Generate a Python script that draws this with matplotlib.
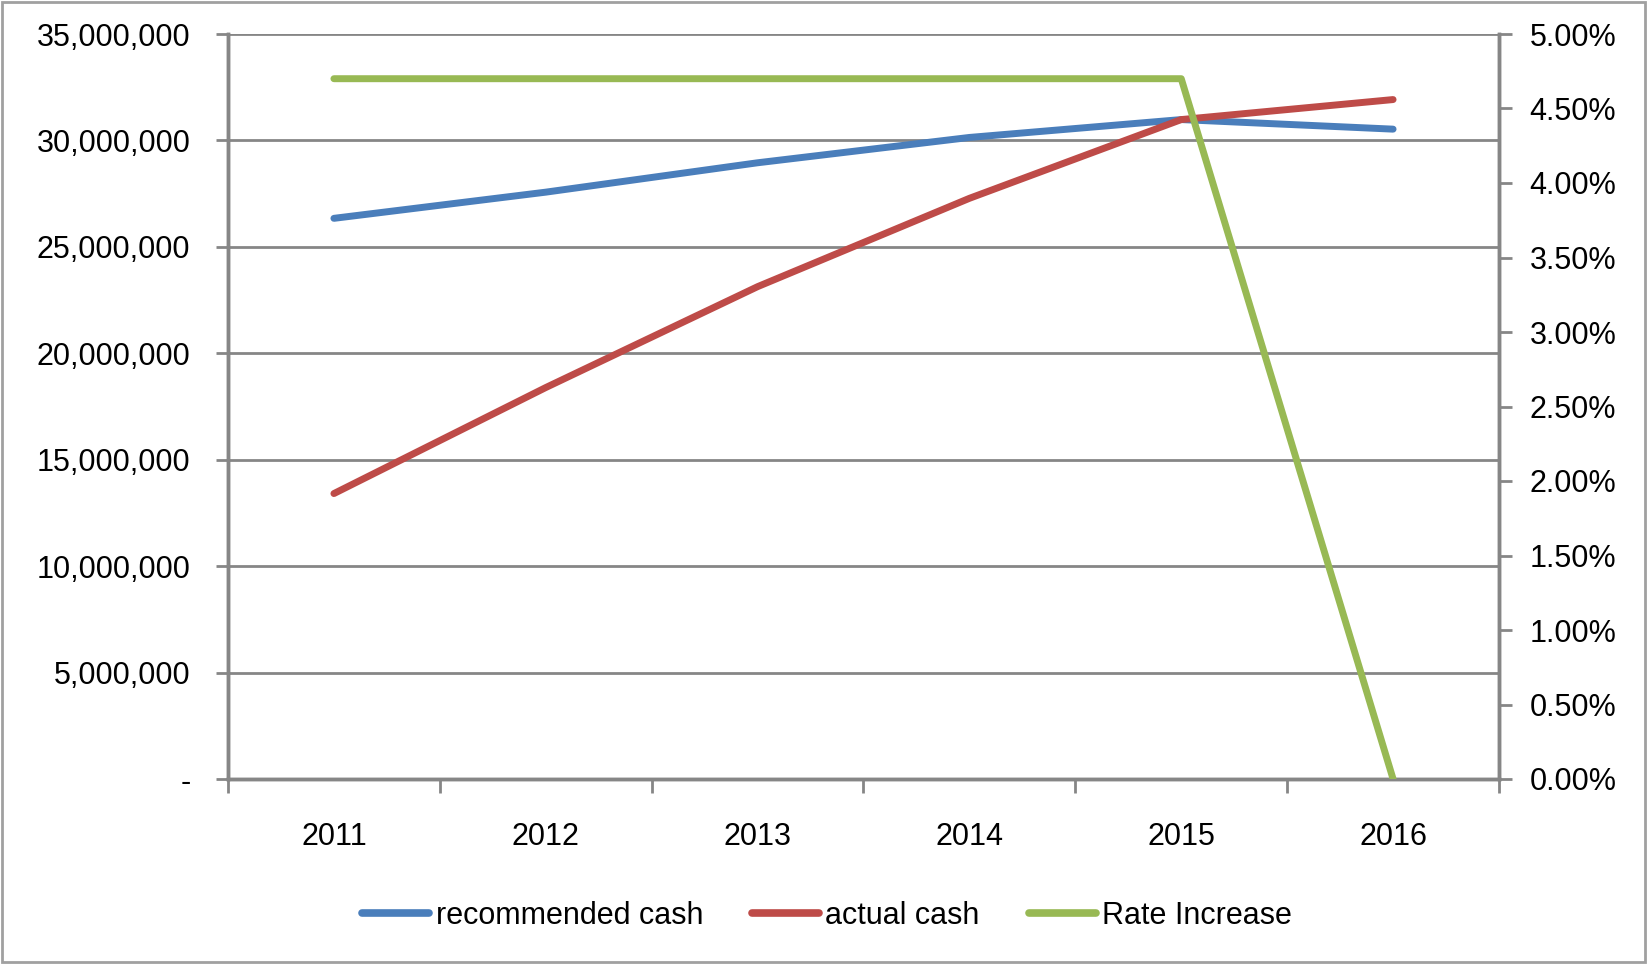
import matplotlib.pyplot as plt
import numpy as np
from matplotlib.ticker import FuncFormatter, MultipleLocator
from matplotlib.lines import Line2D

plt.rcParams['font.family'] = ['Liberation Sans', 'DejaVu Sans']

years = ['2011', '2012', '2013', '2014', '2015', '2016']
recommended_cash = [26340000, 27570000, 28950000, 30140000, 30980000, 30530000]
actual_cash = [13410000, 18390000, 23130000, 27280000, 30980000, 31920000]
rate_increase = [0.047, 0.047, 0.047, 0.047, 0.047, 0.0]

blue = '#4a7ebb'
red = '#be4b48'
green = '#98b954'
grey = '#868686'

fig = plt.figure(figsize=(16.47, 9.64), dpi=100)
ax = fig.add_axes([228 / 1647, 1 - 779 / 964, (1499 - 228) / 1647, (779 - 34) / 964])
ax2 = ax.twinx()

x = np.arange(len(years))
ax.plot(x, recommended_cash, color=blue, lw=5, solid_capstyle='round', zorder=3)
ax.plot(x, actual_cash, color=red, lw=5, solid_capstyle='round', zorder=3)
ax2.plot(x, rate_increase, color=green, lw=5, solid_capstyle='round', zorder=3)

ax.set_xlim(-0.5, len(years) - 0.5)
ax.set_ylim(0, 35000000)
ax2.set_ylim(0, 0.05)

# category labels centred, tick marks on the boundaries
ax.set_xticks(np.arange(-0.5, len(years), 1.0))
ax.set_xticklabels([])
ax.set_xticks(x, minor=True)
ax.set_xticklabels(years, minor=True, fontsize=22)
ax.tick_params(axis='x', which='major', length=10, width=2, color=grey, direction='out')
ax.tick_params(axis='x', which='minor', length=0, pad=31)

ax.yaxis.set_major_locator(MultipleLocator(5000000))
ax.yaxis.set_major_formatter(FuncFormatter(lambda v, p: '-' if v == 0 else f'{v:,.0f}'))
ax.tick_params(axis='y', length=9, width=2, color=grey, labelsize=22, pad=18)

ax2.yaxis.set_major_locator(MultipleLocator(0.005))
ax2.yaxis.set_major_formatter(FuncFormatter(lambda v, p: f'{v * 100:.2f}%'))
ax2.tick_params(axis='y', length=9, width=2, color=grey, labelsize=22, pad=13)

ax.grid(axis='y', color=grey, lw=2, zorder=0)
ax.set_axisbelow(True)
for a in (ax, ax2):
    a.spines['top'].set_visible(False)
    for s in ('left', 'right', 'bottom'):
        a.spines[s].set_color(grey)
        a.spines[s].set_linewidth(2.5)

handles = [Line2D([], [], color=c, lw=5.5, solid_capstyle='round') for c in (blue, red, green)]
fig.legend(handles, ['recommended cash', 'actual cash', 'Rate Increase'],
           loc='center', bbox_to_anchor=(827 / 1647, 1 - 916 / 964), ncol=3,
           frameon=False, fontsize=22, handlelength=2.2, handletextpad=0.2,
           columnspacing=1.6)

# outer chart border
fig.patches.append(plt.Rectangle((2 / 1647, 2 / 964), 1 - 4 / 1647, 1 - 4 / 964,
                                 transform=fig.transFigure, fill=False,
                                 edgecolor='#a0a0a0', lw=2))

fig.savefig('out.png', dpi=100)
